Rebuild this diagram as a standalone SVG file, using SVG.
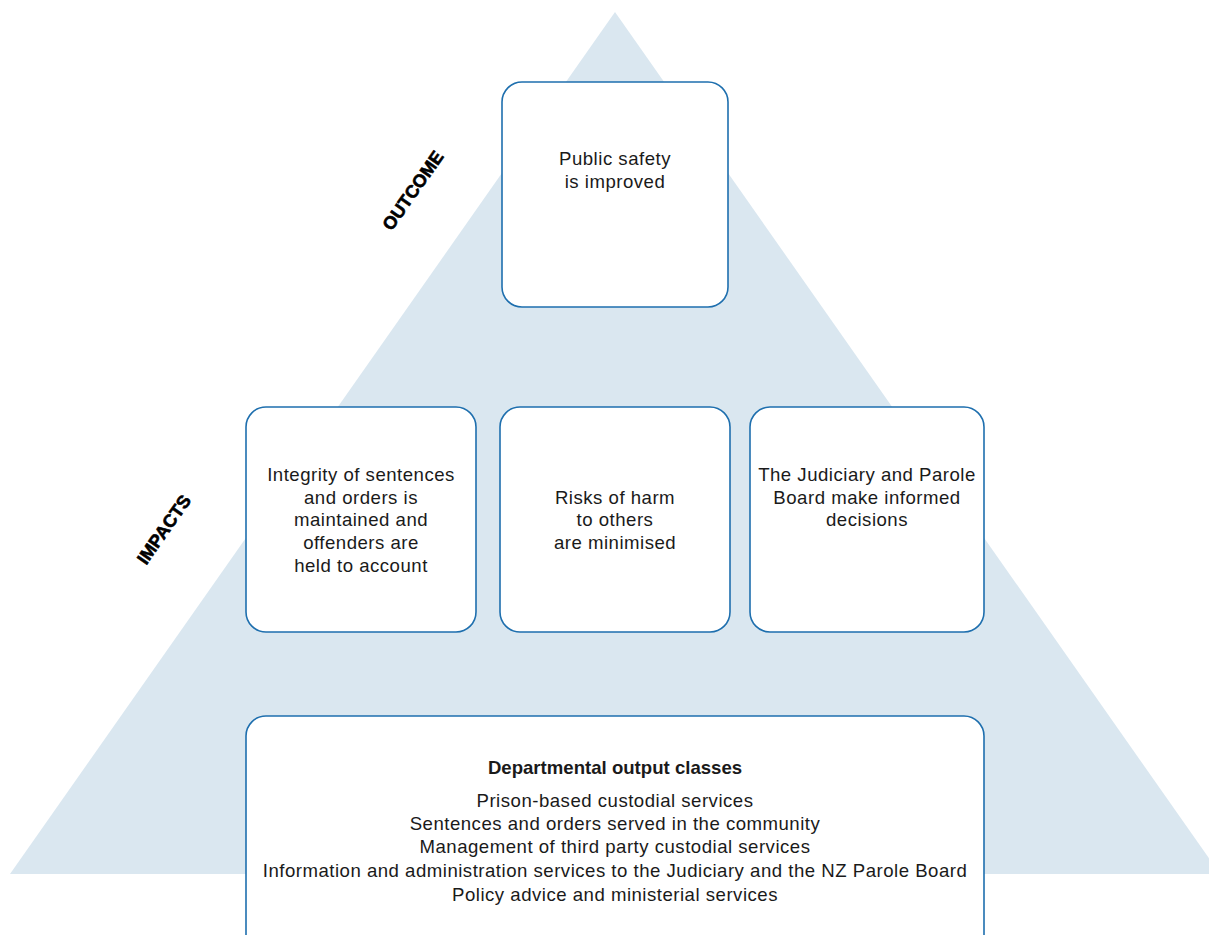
<svg xmlns="http://www.w3.org/2000/svg" width="1209" height="935" viewBox="0 0 1209 935">
<style>
.box{fill:#ffffff;stroke:#1e6fae;stroke-width:1.6}
.t{font-family:"Liberation Sans",Arial,sans-serif;font-size:18.6px;letter-spacing:0.5px;fill:#1a1a1a;text-anchor:middle}
.b{font-weight:bold}
.lab{font-family:"Liberation Sans",Arial,sans-serif;font-size:18px;font-weight:bold;fill:#000;stroke:#000;stroke-width:0.6;text-anchor:middle}
</style>
<rect width="1209" height="935" fill="#ffffff"/>
<polygon id="pyramid" points="615,12 10,874 1220,874" fill="#dae7f0"/>
<text class="lab" transform="translate(418,194) rotate(-55)">OUTCOME</text>
<text class="lab" transform="translate(169,533) rotate(-55)">IMPACTS</text>
<g id="outcome">
<rect class="box" x="502" y="82" width="226" height="225" rx="20"/>
<text class="t" x="615" y="165">Public safety</text>
<text class="t" x="615" y="188">is improved</text>
</g>
<g id="impact1">
<rect class="box" x="246" y="407" width="230" height="225" rx="20"/>
<text class="t" x="361" y="481">Integrity of sentences</text>
<text class="t" x="361" y="504">and orders is</text>
<text class="t" x="361" y="526">maintained and</text>
<text class="t" x="361" y="549">offenders are</text>
<text class="t" x="361" y="572">held to account</text>
</g>
<g id="impact2">
<rect class="box" x="500" y="407" width="230" height="225" rx="20"/>
<text class="t" x="615" y="504">Risks of harm</text>
<text class="t" x="615" y="526">to others</text>
<text class="t" x="615" y="549">are minimised</text>
</g>
<g id="impact3">
<rect class="box" x="750" y="407" width="234" height="225" rx="20"/>
<text class="t" x="867" y="481">The Judiciary and Parole</text>
<text class="t" x="867" y="504">Board make informed</text>
<text class="t" x="867" y="526">decisions</text>
</g>
<g id="outputs">
<rect class="box" x="246" y="716" width="738" height="240" rx="20"/>
<text class="t b" x="615" y="774" style="letter-spacing:0">Departmental output classes</text>
<text class="t" x="615" y="807">Prison-based custodial services</text>
<text class="t" x="615" y="830">Sentences and orders served in the community</text>
<text class="t" x="615" y="853">Management of third party custodial services</text>
<text class="t" x="615" y="877">Information and administration services to the Judiciary and the NZ Parole Board</text>
<text class="t" x="615" y="901">Policy advice and ministerial services</text>
</g>
<g id="connectors"/>
</svg>
